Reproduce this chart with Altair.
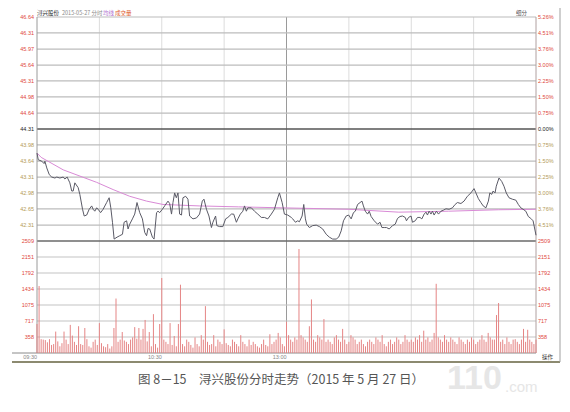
import altair as alt
import pandas as pd

# ---------------- data ----------------
morning = [(0, 43.81), (0.6, 43.67), (2.3, 43.64), (3.4, 43.59), (3.8, 43.64), (4.7, 43.50), (5.9, 43.36),
           (7.1, 43.31), (8.6, 43.29), (9.5, 43.31), (11.0, 43.29), (12.6, 43.31), (13.4, 43.27), (14.5, 43.31),
           (15.8, 43.19), (16.7, 43.02), (17.4, 43.02), (18.2, 43.19), (19.8, 43.09), (20.6, 42.95), (21.9, 42.64),
           (22.7, 42.50), (23.9, 42.52), (25.1, 42.64), (26.3, 42.71), (27.0, 42.64), (27.8, 42.60), (28.7, 42.67),
           (29.4, 42.64), (30.6, 42.57), (31.8, 42.64), (33.5, 42.78), (34.7, 42.88), (35.5, 42.67), (36.3, 42.37),
           (37.1, 42.02), (38.5, 42.06), (39.8, 42.09), (41.1, 42.12), (41.9, 42.37), (43.1, 42.40), (43.8, 42.23),
           (44.6, 42.33), (45.9, 42.44), (47.0, 42.54), (48.1, 42.78), (49.4, 42.57), (50.7, 42.44), (51.8, 42.16),
           (52.7, 42.09), (53.4, 42.24), (54.2, 42.23), (55.5, 42.06), (56.3, 42.02), (57.5, 42.57), (58.2, 42.60),
           (59.0, 42.57), (60.3, 42.64), (61.4, 42.71), (63.0, 42.81), (63.8, 42.76), (64.7, 42.54), (65.4, 42.78),
           (66.2, 42.98), (67.0, 42.88), (67.8, 42.98), (68.6, 42.54), (69.5, 42.52), (70.2, 42.88), (71.5, 42.91),
           (72.6, 42.85), (73.4, 42.50), (75.0, 42.44), (76.7, 42.46), (78.2, 42.54), (79.5, 42.81), (80.3, 42.85),
           (81.5, 42.64), (82.7, 42.50), (83.9, 42.26), (84.6, 42.37), (85.9, 42.50), (86.5, 42.30), (87.8, 42.28),
           (89.4, 42.28), (90.7, 42.44), (91.8, 42.47), (93.5, 42.54), (94.6, 42.54), (95.9, 42.37), (96.6, 42.44),
           (97.8, 42.54), (99.0, 42.60), (99.8, 42.71), (100.7, 42.60), (101.4, 42.67), (103.1, 42.67), (104.6, 42.60),
           (106.2, 42.54), (107.9, 42.47), (109.4, 42.47), (111.0, 42.44), (112.7, 42.54), (114.2, 42.64),
           (115.8, 42.88), (116.6, 42.98), (117.9, 42.78), (119.0, 42.54)]

afternoon = [(120.6, 42.52), (122.3, 42.47), (123.0, 42.44), (124.3, 42.37), (125.4, 42.40), (126.2, 42.38),
             (127.5, 42.50), (128.3, 42.74), (129.1, 42.44), (129.7, 42.33), (131.0, 42.26), (132.6, 42.30),
             (134.3, 42.31), (135.8, 42.28), (137.4, 42.23), (139.1, 42.12), (140.6, 42.06), (142.2, 42.02),
             (143.9, 42.02), (145.1, 42.06), (146.3, 42.19), (147.4, 42.40), (148.7, 42.50), (149.9, 42.52),
             (151.1, 42.44), (152.2, 42.57), (153.1, 42.60), (154.2, 42.74), (155.4, 42.78), (156.3, 42.81),
             (157.0, 42.71), (157.9, 42.60), (159.0, 42.54), (159.8, 42.60), (160.7, 42.49), (162.2, 42.40),
             (163.8, 42.33), (165.0, 42.37), (165.9, 42.26), (167.0, 42.26), (168.1, 42.26), (169.4, 42.23),
             (171.0, 42.30), (172.3, 42.33), (173.4, 42.45), (174.6, 42.49), (175.8, 42.50), (177.1, 42.47),
             (177.7, 42.40), (178.7, 42.47), (179.9, 42.50), (180.6, 42.37), (181.9, 42.40), (183.0, 42.47),
             (184.2, 42.47), (185.1, 42.44), (186.2, 42.54), (187.1, 42.58), (187.8, 42.52), (188.6, 42.60),
             (189.5, 42.54), (190.2, 42.60), (191.0, 42.52), (192.1, 42.60), (193.1, 42.54), (194.3, 42.60),
             (195.4, 42.62), (196.7, 42.65), (198.2, 42.64), (199.8, 42.67), (201.1, 42.74), (202.2, 42.78),
             (203.9, 42.76), (205.4, 42.81), (207.0, 42.91), (208.7, 42.98), (210.2, 43.07), (211.1, 42.98),
             (212.3, 42.86), (213.5, 42.78), (214.6, 42.71), (215.9, 42.67), (217.1, 42.81), (217.8, 42.98),
             (218.7, 42.95), (219.4, 43.02), (220.3, 42.98), (220.9, 43.12), (222.2, 43.29), (223.5, 43.22),
             (224.6, 43.12), (225.7, 42.98), (227.0, 42.88), (228.6, 42.85), (230.3, 42.83), (231.5, 42.74),
             (232.7, 42.67), (233.8, 42.64), (235.1, 42.60), (236.3, 42.49), (237.5, 42.45), (238.6, 42.40),
             (240, 42.10)]

avg_points = [(0, 43.81), (2, 43.72), (12.6, 43.46), (28.7, 43.20), (36.6, 43.05), (44.6, 42.91), (52.7, 42.81),
              (60.6, 42.74), (78, 42.71), (97, 42.69), (118, 42.67), (150, 42.64), (174, 42.58), (198, 42.60),
              (222, 42.63), (240, 42.64)]

volumes = [650, 1500, 310, 300, 290, 240, 310, 180, 200, 480, 260, 150, 220, 480, 300, 200, 630, 390, 250, 180,
           600, 200, 180, 560, 310, 150, 120, 250, 300, 180, 670, 220, 150, 130, 200, 100, 150, 560, 1220, 250,
           300, 470, 280, 250, 200, 300, 350, 580, 320, 560, 300, 540, 740, 260, 470, 150, 870, 200, 120, 650,
           1680, 300, 250, 200, 670, 180, 380, 150, 650, 1530, 200, 150, 300, 250, 180, 120, 350, 200, 150, 400,
           300, 1050, 250, 180, 200, 400, 150, 300, 250, 200, 530, 220, 180, 150, 300, 250, 200, 150, 400, 250,
           200, 150, 300, 180, 250, 200, 150, 120, 200, 300, 180, 150, 420, 200, 250, 300, 450, 350, 200, 150,
           700, 400, 300, 250, 350, 300, 2330, 400, 350, 300, 250, 600, 1200, 300, 250, 400, 350, 300, 760, 250,
           300, 250, 200, 350, 400, 300, 250, 540, 300, 200, 250, 400, 350, 300, 200, 250, 300, 200, 150, 250,
           300, 250, 200, 350, 300, 250, 400, 200, 150, 250, 300, 200, 250, 350, 300, 200, 250, 400, 300, 250,
           300, 250, 350, 300, 400, 250, 500, 300, 350, 250, 300, 450, 1550, 350, 300, 250, 400, 300, 250, 350,
           300, 250, 200, 350, 300, 250, 200, 300, 250, 350, 300, 200, 250, 300, 400, 300, 250, 450, 350, 300,
           300, 850, 1120, 250, 300, 200, 350, 250, 200, 300, 310, 250, 200, 300, 540, 250, 520, 300, 250, 200, 300]

prev_close = 44.31
price_levels = [46.64, 46.31, 45.97, 45.64, 45.31, 44.98, 44.64, 44.31, 43.98, 43.64, 43.31, 42.98, 42.65, 42.31]
price_texts = ["46.64", "46.31", "45.97", "45.64", "45.31", "44.98", "44.64", "44.31",
               "43.98", "43.64", "43.31", "42.98", "42.65", "42.31"]
pct_texts = ["5.26%", "4.51%", "3.76%", "3.00%", "2.25%", "1.50%", "0.75%", "0.00%",
             "0.75%", "1.50%", "2.25%", "3.00%", "3.76%", "4.51%"]
price_low, price_high = 41.98, 46.64
vol_levels = [2509, 2151, 1792, 1434, 1075, 717, 358]
vol_max = 2509
time_ticks = [0, 60, 120]
time_texts = ["09:30", "10:30", "13:00"]
vgrid_minutes = [30, 60, 90, 150, 180, 210]

# ---------------- layout ----------------
W, H, PH = 499, 336, 224
FONT = "Liberation Sans"
CJK = "Noto Sans CJK SC"

xs = alt.Scale(domain=[0, 240], range=[0, W], nice=False, zero=False)
ps = alt.Scale(domain=[price_low, price_high], range=[PH, 0], nice=False, zero=False)
vs = alt.Scale(domain=[0, vol_max], range=[H, PH], nice=False, zero=False)

price_df = pd.DataFrame(morning + afternoon, columns=["m", "p"])
avg_df = pd.DataFrame(avg_points, columns=["m", "p"])
vol_df = pd.DataFrame({"m": list(range(len(volumes))), "v": volumes, "z": [0] * len(volumes)})

red, olive = "#e0473c", "#b49a55"
lvl_df = pd.DataFrame({
    "p": price_levels, "t": price_texts, "pct": pct_texts,
    "c": [red if v > prev_close else ("#222222" if v == prev_close else olive) for v in price_levels],
})
vlvl_df = pd.DataFrame({"v": vol_levels, "t": [str(v) for v in vol_levels]})
time_df = pd.DataFrame({"m": time_ticks, "t": time_texts})
vg_df = pd.DataFrame({"m": vgrid_minutes})

X = lambda: alt.X("m:Q", scale=xs, axis=None)
YP = lambda f="p:Q": alt.Y(f, scale=ps, axis=None)
YV = lambda f="v:Q": alt.Y(f, scale=vs, axis=None)

layers = []

# vertical grid
layers.append(alt.Chart(vg_df).mark_rule(color="#dcdcdc", strokeWidth=1).encode(x=X()))
layers.append(alt.Chart(pd.DataFrame({"m": [120]})).mark_rule(color="#9a9a9a", strokeWidth=1).encode(x=X()))

# horizontal price grid
grid_df = lvl_df[lvl_df.p != prev_close]
layers.append(alt.Chart(grid_df).mark_rule(color="#bcbcbc", strokeWidth=1.2).encode(y=YP()))
layers.append(alt.Chart(pd.DataFrame({"p": [prev_close]})).mark_rule(color="#555555", strokeWidth=1.5).encode(y=YP()))
# volume grid
layers.append(alt.Chart(vlvl_df[vlvl_df.v != vol_max]).mark_rule(color="#c4c4c4", strokeWidth=1.2).encode(y=YV()))
layers.append(alt.Chart(pd.DataFrame({"v": [vol_max]})).mark_rule(color="#6a6a6a", strokeWidth=1.5).encode(y=YV()))

# plot borders
layers.append(alt.Chart(pd.DataFrame({"m": [0]})).mark_rule(color="#9a9a9a", strokeWidth=1).encode(x=X()))
layers.append(alt.Chart(pd.DataFrame({"m": [240]})).mark_rule(color="#b0a0a0", strokeWidth=1).encode(x=X()))

# frame lines
frame = pd.DataFrame({"k": [0]})
layers.append(alt.Chart(frame).mark_rule(color="#8a8a8a", strokeWidth=1).encode(
    x=alt.value(-25), x2=alt.value(523), y=alt.value(-10)))
layers.append(alt.Chart(frame).mark_rule(color="#8a8a8a", strokeWidth=1).encode(
    x=alt.value(-25), x2=alt.value(W), y=alt.value(H)))
layers.append(alt.Chart(frame).mark_rule(color="#8c8a70", strokeWidth=2).encode(
    x=alt.value(-25), x2=alt.value(523), y=alt.value(H + 9)))
layers.append(alt.Chart(frame).mark_rule(color="#a0a0a0", strokeWidth=1).encode(
    x=alt.value(523), y=alt.value(-10), y2=alt.value(H + 9)))

# volume bars
layers.append(alt.Chart(vol_df).mark_rule(color="#e58585", strokeWidth=1).encode(
    x=X(), y=YV(), y2="z:Q"))

# average line and price line
layers.append(alt.Chart(avg_df).mark_line(color="#d98ad6", strokeWidth=1).encode(x=X(), y=YP()))
layers.append(alt.Chart(price_df).mark_line(color="#5a5a66", strokeWidth=1).encode(x=X(), y=YP()))

# axis labels
layers.append(alt.Chart(lvl_df).mark_text(align="right", baseline="middle", fontSize=5.5, font=FONT).encode(
    x=alt.value(-3), y=YP(), text="t:N", color=alt.Color("c:N", scale=None)))
layers.append(alt.Chart(lvl_df).mark_text(align="left", baseline="middle", fontSize=5.5, font=FONT).encode(
    x=alt.value(W + 2), y=YP(), text="pct:N", color=alt.Color("c:N", scale=None)))
layers.append(alt.Chart(vlvl_df).mark_text(align="right", baseline="middle", fontSize=5.5, font=FONT, color=red).encode(
    x=alt.value(-3), y=YV(), text="t:N"))
layers.append(alt.Chart(vlvl_df).mark_text(align="left", baseline="middle", fontSize=5.5, font=FONT, color=red).encode(
    x=alt.value(W + 2), y=YV(), text="t:N"))
layers.append(alt.Chart(time_df).mark_text(align="right", baseline="middle", fontSize=5.5, font=FONT, color="#888888").encode(
    x=X(), y=alt.value(H + 4), text="t:N"))

# header row / small texts (placed in pixels)
hdr_texts = ["浔兴股份", "2015-05-27 分时", "均线", "成交量", "细分", "操作"]
hdr_x = [0, 25, 66, 78, 479, 505]
hdr_y = [-4, -4, -4, -4, -4, H + 4]
hdr_c = ["#222222", "#8a8a8a", "#b070d0", "#e06030", "#555555", "#333333"]
for t, px, py, c in zip(hdr_texts, hdr_x, hdr_y, hdr_c):
    layers.append(alt.Chart(frame).mark_text(text=t, align="left", baseline="middle", fontSize=5.5,
                                             font=CJK, color=c).encode(x=alt.value(px), y=alt.value(py)))

# watermark and caption
layers.append(alt.Chart(frame).mark_text(text="110", align="left", baseline="alphabetic", fontSize=34,
                                         fontWeight="bold", font=FONT, color="#e6e6e6").encode(
    x=alt.value(410), y=alt.value(372)))
layers.append(alt.Chart(frame).mark_text(text=".com", align="left", baseline="alphabetic", fontSize=15,
                                         font=FONT, color="#e6e6e6").encode(
    x=alt.value(468), y=alt.value(375)))
layers.append(alt.Chart(frame).mark_text(text="图 8－15　浔兴股份分时走势（2015 年 5 月 27 日）", align="center",
                                         baseline="middle", fontSize=12.5, font=CJK, color="#555555").encode(
    x=alt.value(244), y=alt.value(363)))

chart = alt.layer(*layers).resolve_scale(x="independent", y="independent").properties(
    width=W, height=H,
    autosize=alt.AutoSizeParams(type="none"),
    padding={"left": 29, "top": 9, "right": 26, "bottom": 51},
    background="white",
).configure_view(strokeWidth=0)

chart.save("out.html", embed_options={"renderer": "svg", "actions": False})
